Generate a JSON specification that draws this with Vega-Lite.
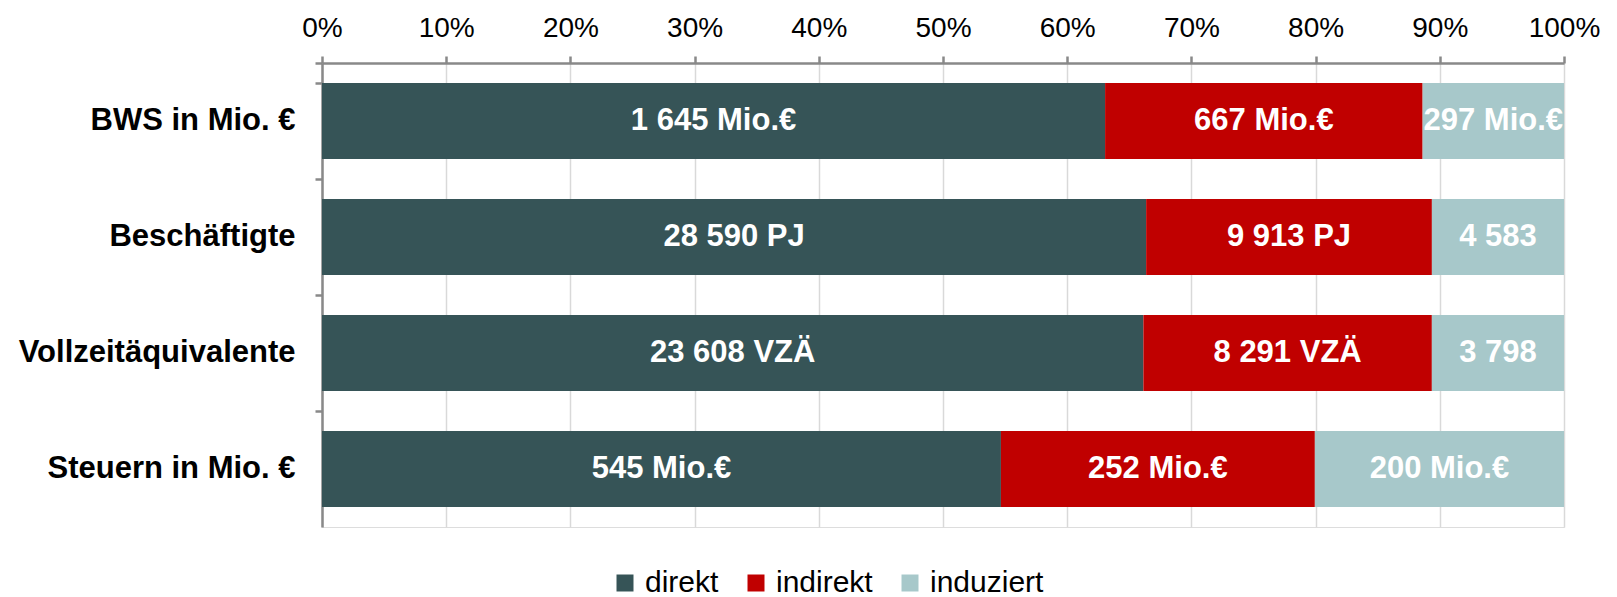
{
  "$schema": "https://vega.github.io/schema/vega-lite/v6.json",
  "autosize": "none",
  "width": 1242,
  "height": 464,
  "padding": {"left": 322, "top": 63, "right": 53, "bottom": 70},
  "background": "white",
  "data": {
    "values": [
      {"kat": "BWS in Mio. €", "typ": "direkt", "wert": 1645, "label": "1 645 Mio.€"},
      {"kat": "BWS in Mio. €", "typ": "indirekt", "wert": 667, "label": "667 Mio.€"},
      {"kat": "BWS in Mio. €", "typ": "induziert", "wert": 297, "label": "297 Mio.€"},
      {"kat": "Beschäftigte", "typ": "direkt", "wert": 28590, "label": "28 590 PJ"},
      {"kat": "Beschäftigte", "typ": "indirekt", "wert": 9913, "label": "9 913 PJ"},
      {"kat": "Beschäftigte", "typ": "induziert", "wert": 4583, "label": "4 583"},
      {"kat": "Vollzeitäquivalente", "typ": "direkt", "wert": 23608, "label": "23 608 VZÄ"},
      {"kat": "Vollzeitäquivalente", "typ": "indirekt", "wert": 8291, "label": "8 291 VZÄ"},
      {"kat": "Vollzeitäquivalente", "typ": "induziert", "wert": 3798, "label": "3 798"},
      {"kat": "Steuern in Mio. €", "typ": "direkt", "wert": 545, "label": "545 Mio.€"},
      {"kat": "Steuern in Mio. €", "typ": "indirekt", "wert": 252, "label": "252 Mio.€"},
      {"kat": "Steuern in Mio. €", "typ": "induziert", "wert": 200, "label": "200 Mio.€"}
    ]
  },
  "encoding": {
    "y": {
      "field": "kat",
      "type": "nominal",
      "sort": null,
      "scale": {"paddingInner": 0.345, "paddingOuter": 0.1725},
      "axis": {
        "title": null,
        "orient": "left",
        "labelFont": "Liberation Sans",
        "labelFontSize": 31,
        "labelFontWeight": "bold",
        "labelColor": "#000000",
        "labelLimit": 500,
        "labelPadding": 20,
        "bandPosition": -0.263,
        "tickExtra": true,
        "tickSize": 7,
        "tickColor": "#898989",
        "tickWidth": 2.5,
        "domainColor": "#898989",
        "domainWidth": 2.5,
        "grid": false
      }
    },
    "order": {"field": "typ", "type": "nominal"}
  },
  "layer": [
    {
      "mark": {"type": "bar"},
      "encoding": {
        "x": {
          "field": "wert",
          "type": "quantitative",
          "stack": "normalize",
          "scale": {"domain": [0, 1], "nice": false},
          "axis": {
            "orient": "top",
            "title": null,
            "format": ".0%",
            "values": [0, 0.1, 0.2, 0.3, 0.4, 0.5, 0.6, 0.7, 0.8, 0.9, 1],
            "labelFont": "Liberation Sans",
            "labelFontSize": 28,
            "labelColor": "#000000",
            "labelPadding": 14,
            "labelFlush": false,
            "tickSize": 7,
            "tickColor": "#898989",
            "tickWidth": 2.5,
            "domainColor": "#898989",
            "domainWidth": 2.5,
            "grid": true,
            "gridColor": "#D9D9D9",
            "gridWidth": 1.5
          }
        },
        "color": {
          "field": "typ",
          "type": "nominal",
          "scale": {"domain": ["direkt", "indirekt", "induziert"], "range": ["#365457", "#C00000", "#A7C8CA"]},
          "legend": {
            "title": null,
            "orient": "none",
            "direction": "horizontal",
            "legendX": 288,
            "legendY": 505,
            "labelFont": "Liberation Sans",
            "labelFontSize": 30,
            "labelColor": "#000000",
            "labelOffset": 5,
            "columnPadding": 22,
            "symbolType": "square",
            "symbolSize": 289,
            "symbolStrokeWidth": 0,
            "symbolOpacity": 1
          }
        }
      }
    },
    {
      "mark": {"type": "text", "color": "white", "font": "Liberation Sans", "fontSize": 31, "fontWeight": "bold", "baseline": "middle", "align": "center"},
      "encoding": {
        "x": {"field": "wert", "type": "quantitative", "stack": "normalize", "bandPosition": 0.5},
        "detail": {"field": "typ"},
        "text": {"field": "label"}
      }
    }
  ]
}
